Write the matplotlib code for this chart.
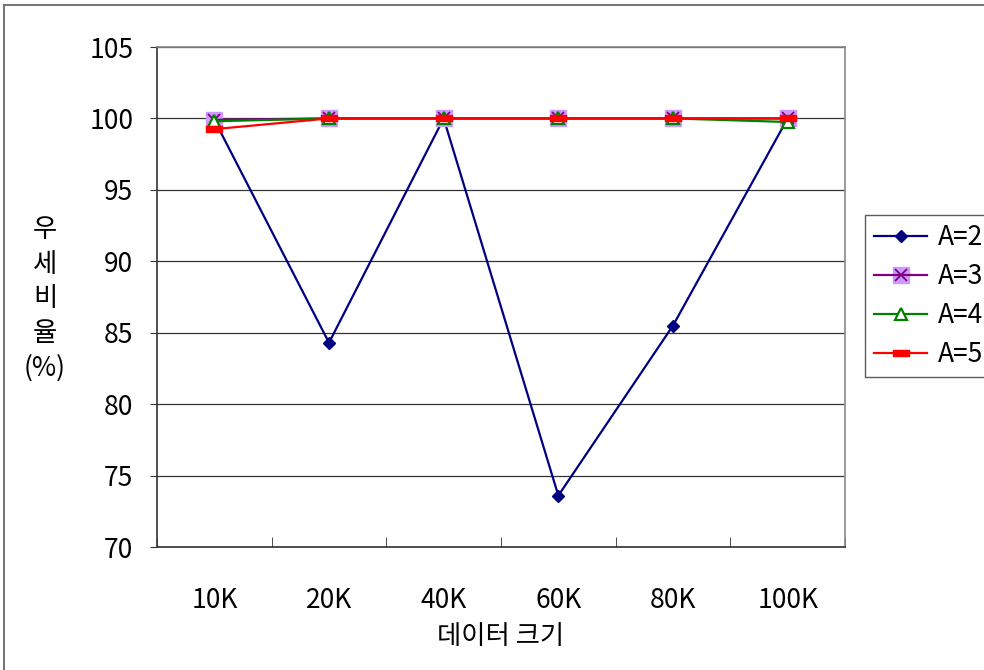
import numpy as np
import matplotlib
matplotlib.use('Agg')
import matplotlib.pyplot as plt
from matplotlib.path import Path
from matplotlib.lines import Line2D

plt.rcParams['font.family'] = ['Noto Sans CJK KR', 'DejaVu Sans']

# data
categories = ['10K', '20K', '40K', '60K', '80K', '100K']
a2 = [99.9, 84.3, 100.0, 73.6, 85.5, 100.0]
a3 = [99.9, 100.0, 100.0, 100.0, 100.0, 100.0]
a4 = [99.8, 100.0, 100.0, 100.0, 100.0, 99.75]
a5 = [99.25, 100.0, 100.0, 100.0, 100.0, 100.0]
series_labels = ['A=2', 'A=3', 'A=4', 'A=5']
yticks = [70, 75, 80, 85, 90, 95, 100, 105]

W, H = 984, 670
FS = 19
fig = plt.figure(figsize=(W / 100, H / 100), dpi=100)
ax = fig.add_axes([157 / W, (H - 547) / H, (845 - 157) / W, (547 - 47) / H])

x = np.arange(len(categories))

# flat dash-like marker for A=5
dash = Path([(-1, -0.45), (1, -0.45), (1, 0.45), (-1, 0.45), (-1, -0.45)],
            [Path.MOVETO, Path.LINETO, Path.LINETO, Path.LINETO, Path.CLOSEPOLY])

l2, = ax.plot(x, a2, color='#000080', lw=1.6, marker='D', ms=6.5,
              mfc='#000080', mec='#000080', zorder=3)
sq3, = ax.plot(x, a3, ls='none', marker='s', ms=12, mfc='#CC99FF', mec='#CC99FF', zorder=4)
l3, = ax.plot(x, a3, color='#800080', lw=1.6, marker='x', ms=9, mew=1.3,
              mec='#800080', zorder=4)
l4, = ax.plot(x, a4, color='#008000', lw=1.6, marker='^', ms=9, mfc='white',
              mec='#008000', mew=1.6, zorder=5)
l5, = ax.plot(x, a5, color='#FF0000', lw=1.6, marker=dash, ms=11,
              mfc='#FF0000', mec='#FF0000', zorder=6)

ax.set_xlim(-0.5, len(categories) - 0.5)
ax.set_ylim(70, 105)
ax.set_yticks(yticks)
ax.set_xticks(x)
ax.set_xticklabels(categories)
ax.set_xticks(np.arange(-0.5, len(categories)), minor=True)
ax.tick_params(axis='x', which='major', length=0, pad=29, labelsize=FS)
ax.tick_params(axis='x', which='minor', direction='in', length=7, color='#333333')
ax.tick_params(axis='y', length=5, color='#333333', pad=12, labelsize=FS)

ax.yaxis.grid(True, color='#333333', lw=0.9)
ax.set_axisbelow(True)
for side in ['top', 'right']:
    ax.spines[side].set_color('#888888')
    ax.spines[side].set_linewidth(1.2)
for side in ['left', 'bottom']:
    ax.spines[side].set_color('#333333')
    ax.spines[side].set_linewidth(1.2)

ax.set_xlabel('데이터 크기', fontsize=FS, labelpad=6)
fig.text(45 / W, 1 - 299 / H, '우\n세\n비\n율\n(%)', fontsize=FS,
         ha='center', va='center', linespacing=1.36)

handles = [l2, (sq3, l3), l4, l5]
leg = fig.legend(handles, series_labels, loc='center left',
                 bbox_to_anchor=(865 / W, 1 - 296 / H), fontsize=FS,
                 frameon=True, fancybox=False, edgecolor='#333333',
                 handlelength=2.0, handletextpad=0.4, borderpad=0.35,
                 labelspacing=0.45, borderaxespad=0)
leg.get_frame().set_linewidth(1.0)

# outer frame lines (top and left)
fig.add_artist(Line2D([4 / W, 1], [1 - 5 / H, 1 - 5 / H], color='#777777', lw=1.5))
fig.add_artist(Line2D([4 / W, 4 / W], [0, 1 - 5 / H], color='#777777', lw=1.5))

fig.savefig('out.png', dpi=100)
